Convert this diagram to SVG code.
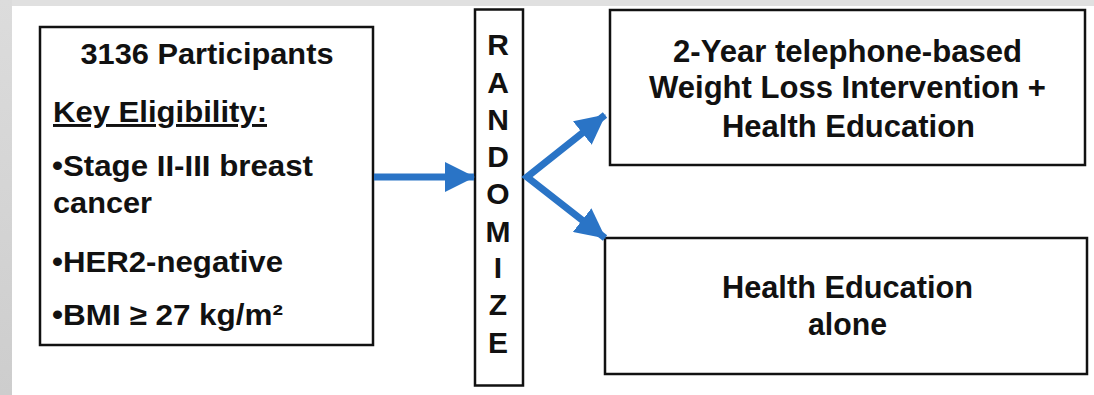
<svg xmlns="http://www.w3.org/2000/svg" width="1094" height="395" viewBox="0 0 1094 395">
<style>
.box{fill:#fff;stroke:#111;stroke-width:2.5}
.t{font-family:"Liberation Sans",Arial,sans-serif;font-weight:bold;fill:#111}
.l{font-size:29.5px}
.r{font-size:31px;text-anchor:middle}
.rz{font-size:30px;text-anchor:middle}
.conn{fill:none;stroke:#2a74c6;stroke-width:7;stroke-linejoin:miter}
</style>
<defs>
<marker id="ah" markerUnits="userSpaceOnUse" markerWidth="30" markerHeight="30" viewBox="0 0 30 30" refX="29" refY="15" orient="auto-start-reverse">
<path d="M0,0 L30,15 L0,30 z" fill="#2a74c6"/>
</marker>
<linearGradient id="lg" x1="0" y1="0" x2="0" y2="1">
<stop offset="0" stop-color="#dcdcdc"/><stop offset="1" stop-color="#cdcdcd"/>
</linearGradient>
</defs>
<rect x="0" y="0" width="1094" height="395" fill="#fff"/>
<rect x="0" y="0" width="1094" height="6" fill="#e0e0e0"/>
<rect x="0" y="0" width="12" height="395" fill="url(#lg)"/>

<g id="participants">
<rect class="box" x="40" y="27" width="333" height="318"/>
<text class="t l" x="207" y="64" text-anchor="middle" textLength="253" lengthAdjust="spacingAndGlyphs">3136 Participants</text>
<text class="t l" x="53" y="122" text-decoration="underline" textLength="214" lengthAdjust="spacingAndGlyphs">Key Eligibility:</text>
<text class="t l" x="52" y="176" textLength="261" lengthAdjust="spacingAndGlyphs">•Stage II-III breast</text>
<text class="t l" x="53" y="213" textLength="99" lengthAdjust="spacingAndGlyphs">cancer</text>
<text class="t l" x="52" y="272" textLength="231" lengthAdjust="spacingAndGlyphs">•HER2-negative</text>
<text class="t l" x="52" y="325" textLength="231" lengthAdjust="spacingAndGlyphs">•BMI ≥ 27 kg/m²</text>
</g>

<g id="randomize">
<rect class="box" x="475" y="9.5" width="48" height="376"/>
<text class="t rz" x="498" y="55">R</text>
<text class="t rz" x="498" y="93">A</text>
<text class="t rz" x="498" y="130">N</text>
<text class="t rz" x="498" y="167">D</text>
<text class="t rz" x="498" y="204">O</text>
<text class="t rz" x="498" y="242">M</text>
<text class="t rz" x="498" y="278">I</text>
<text class="t rz" x="498" y="315">Z</text>
<text class="t rz" x="498" y="353">E</text>
</g>

<g id="intervention">
<rect class="box" x="610" y="10" width="475" height="155"/>
<text class="t r" x="847.5" y="62" textLength="349" lengthAdjust="spacingAndGlyphs">2-Year telephone-based</text>
<text class="t r" x="847.5" y="98" textLength="397" lengthAdjust="spacingAndGlyphs">Weight Loss Intervention +</text>
<text class="t r" x="848.5" y="137" textLength="253" lengthAdjust="spacingAndGlyphs">Health Education</text>
</g>

<g id="control">
<rect class="box" x="605" y="238" width="482" height="136"/>
<text class="t r" x="847.5" y="298" textLength="251" lengthAdjust="spacingAndGlyphs">Health Education</text>
<text class="t r" x="847.5" y="335" textLength="79" lengthAdjust="spacingAndGlyphs">alone</text>
</g>

<g id="connectors">
<path class="conn" d="M374,177 L474,177" marker-end="url(#ah)"/>
<path class="conn" d="M605,115 L527,177 L605,238" marker-start="url(#ah)" marker-end="url(#ah)"/>
</g>
</svg>
